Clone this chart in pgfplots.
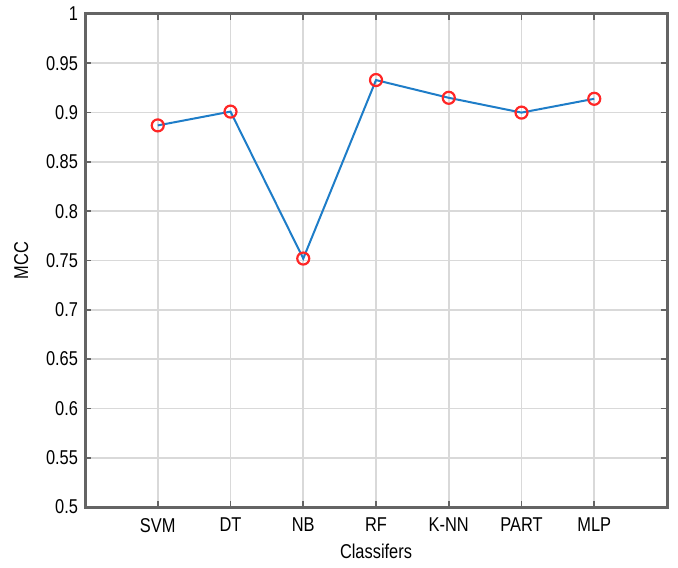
\documentclass[border=0pt]{standalone}
\usepackage{fontspec}
\setmainfont{Liberation Sans}[FakeStretch=0.82]
\usepackage{pgfplots}
\pgfplotsset{compat=1.18}
\definecolor{mblue}{RGB}{30,125,200}
\definecolor{frame}{RGB}{100,100,100}
\begin{document}
\begin{tikzpicture}
\begin{axis}[
  name=ax,
  scale only axis,
  width=291pt, height=246.5pt,
  xmin=0, xmax=8, ymin=0.5, ymax=1,
  xtick={1,2,3,4,5,6,7},
  xticklabels={SVM,DT,NB,RF,K-NN,PART,MLP},
  ytick={0.5,0.55,0.6,0.65,0.7,0.75,0.8,0.85,0.9,0.95,1},
  yticklabels={0.5,0.55,0.6,0.65,0.7,0.75,0.8,0.85,0.9,0.95,1},
  tick align=inside,
  major tick length=3pt,
  tick style={frame, line width=0.8pt},
  axis line style={frame, line width=1.5pt},
  grid=major,
  grid style={gray!30, line width=0.8pt},
  ticklabel style={font=\fontsize{10}{11}\selectfont},
  label style={font=\fontsize{10}{11}\selectfont},
  xticklabel style={yshift=-2pt},
  xlabel={Classifers},
  ylabel={MCC},
  xlabel style={yshift=1pt},
  ylabel style={yshift=2pt},
  /pgf/number format/assume math mode=true,
]
\addplot[mblue, line width=1pt, mark=o, mark size=3pt,
  mark options={red!85!white, line width=1.1pt}]
coordinates {(1,0.887) (2,0.901) (3,0.752) (4,0.933) (5,0.915) (6,0.900) (7,0.914)};
\end{axis}
\pgfresetboundingbox
\path[use as bounding box] ([xshift=-42.5pt,yshift=-30pt]ax.south west) rectangle ([xshift=5.5pt,yshift=7pt]ax.north east);
\end{tikzpicture}
\end{document}
